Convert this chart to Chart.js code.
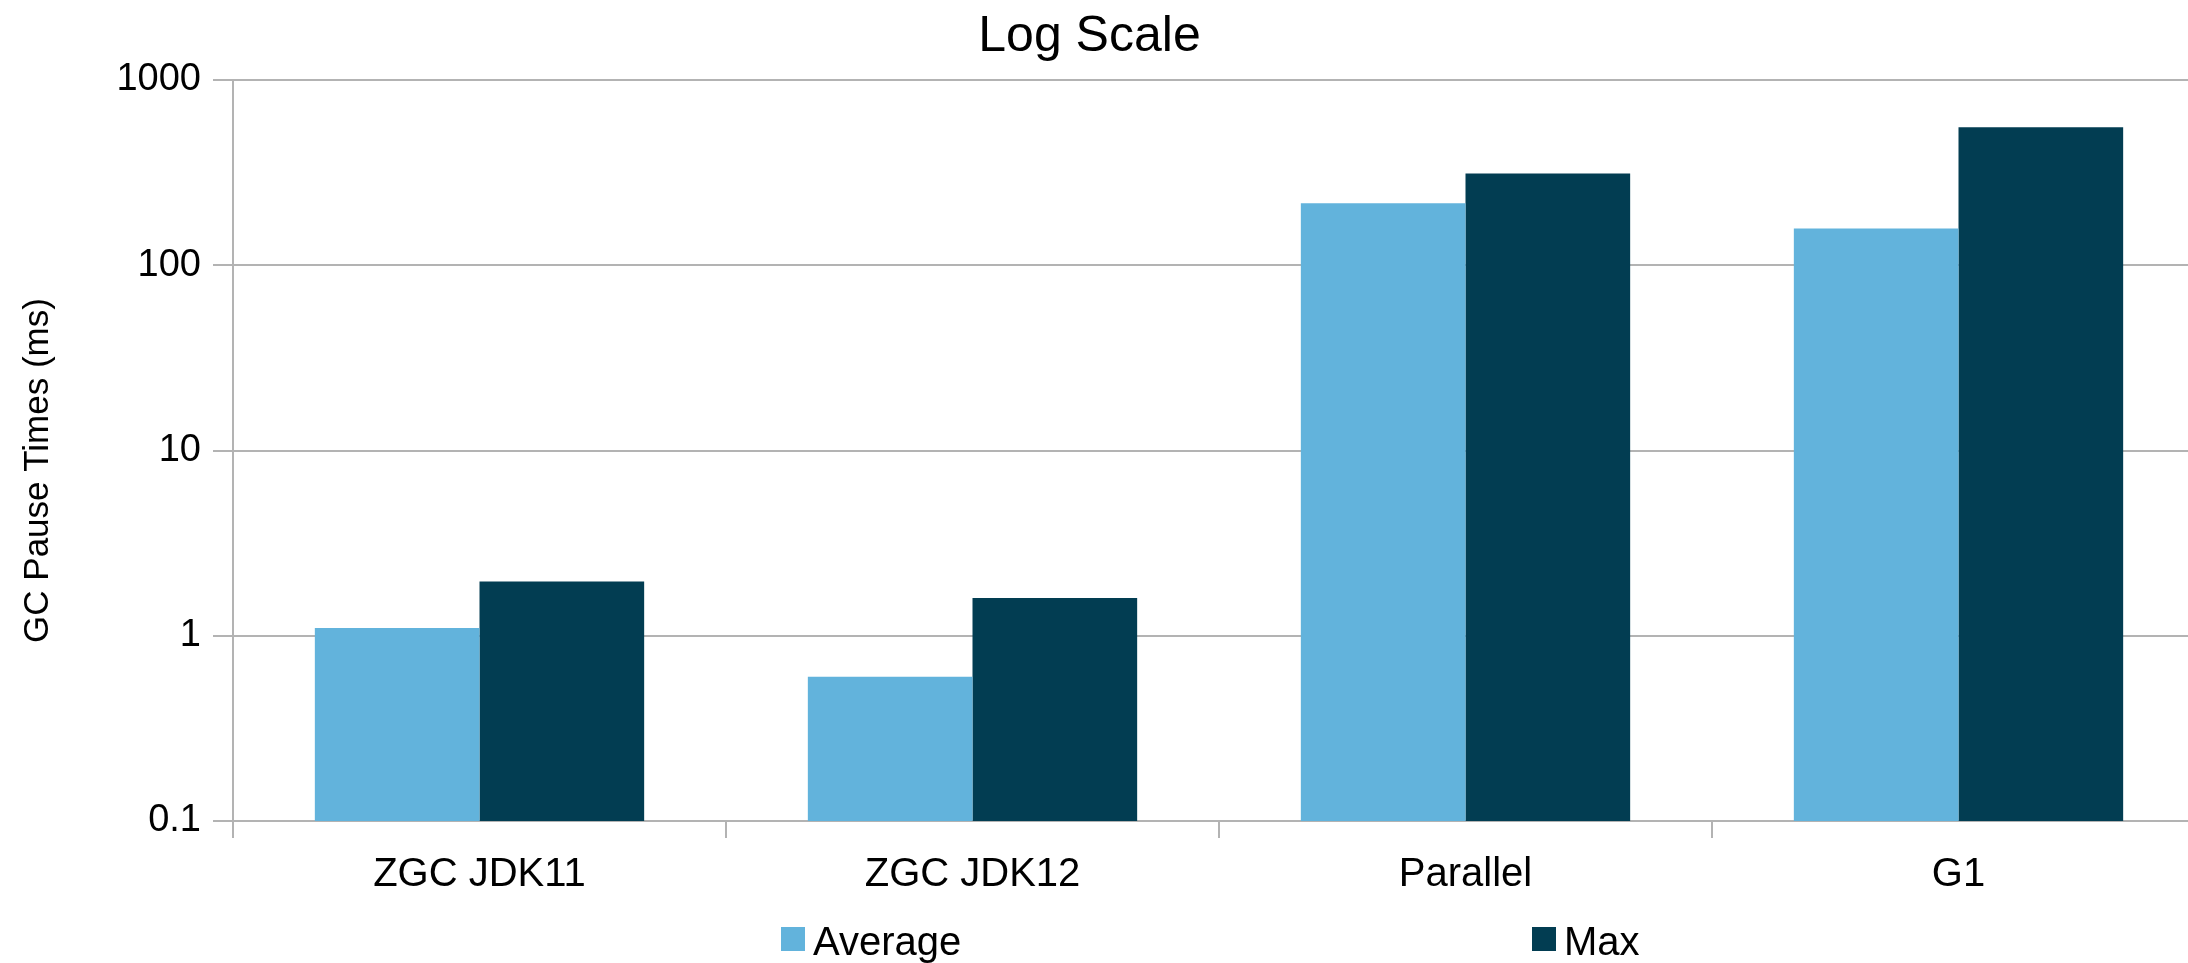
<!DOCTYPE html>
<html>
<head>
<meta charset="utf-8">
<script src="https://cdn.jsdelivr.net/npm/chart.js@4/dist/chart.umd.min.js"></script>
<style>
  html, body { margin: 0; padding: 0; background: #ffffff; width: 2188px; height: 963px; overflow: hidden; }
  #wrap { position: relative; width: 2205px; height: 963px; }
  #chart { position: absolute; left: 0; top: 0; }
  .leg { position: absolute; top: 921px; height: 40px; font-family: "Liberation Sans", Arial, sans-serif; font-size: 40px; line-height: 40px; color: #000; white-space: nowrap; }
  .sw { position: absolute; width: 24px; height: 24px; top: 6px; left: 0; }
  .lt { position: absolute; left: 32px; top: 0; }
</style>
</head>
<body>
<div id="wrap">
  <canvas id="chart"></canvas>
  <div id="legend"></div>
</div>
<script>
// ---- data ----
const categories = ['ZGC JDK11', 'ZGC JDK12', 'Parallel', 'G1'];
const averageValues = [1.1, 0.6, 216, 158];
const maxValues = [1.96, 1.6, 313, 555];
const seriesNames = ['Average', 'Max'];
const yTickValues = [0.1, 1, 10, 100, 1000];
const yTickLabels = ['0.1', '1', '10', '100', '1000'];
const chartTitle = 'Log Scale';
const yAxisTitle = 'GC Pause Times (ms)';

// ---- styles ----
const FONT = '"Liberation Sans", Arial, sans-serif';
const seriesColors = ['#62b3dc', '#023d52'];
const gridColor = '#b3b3b3';
const legendLefts = [781, 1532];

const yTitlePlugin = {
  id: 'yTitle',
  afterDraw(chart) {
    const ctx = chart.ctx;
    const area = chart.chartArea;
    ctx.save();
    ctx.translate(38, (area.top + area.bottom) / 2 + 20);
    ctx.rotate(-Math.PI / 2);
    ctx.font = '35px ' + FONT;
    ctx.fillStyle = '#000';
    ctx.textAlign = 'center';
    ctx.textBaseline = 'middle';
    ctx.fillText(yAxisTitle, 0, 0);
    ctx.restore();
  }
};

const datasets = [averageValues, maxValues].map((vals, i) => ({
  label: seriesNames[i],
  data: vals,
  backgroundColor: seriesColors[i],
  borderWidth: 0,
  barPercentage: 1.0,
  categoryPercentage: 0.668
}));

new Chart(document.getElementById('chart'), {
  type: 'bar',
  data: { labels: categories, datasets: datasets },
  plugins: [yTitlePlugin],
  options: {
    responsive: true,
    maintainAspectRatio: false,
    animation: false,
    devicePixelRatio: 1,
    layout: { padding: { left: -26, right: 0, top: 0, bottom: 62 } },
    plugins: {
      legend: { display: false },
      tooltip: { enabled: false },
      title: {
        display: true,
        text: chartTitle,
        color: '#000',
        font: { family: FONT, size: 50, weight: 'normal', lineHeight: 1.2 },
        padding: { top: 7, bottom: 13 }
      }
    },
    scales: {
      x: {
        offset: true,
        grid: { offset: true, drawOnChartArea: false, drawTicks: true, tickLength: 17, color: gridColor, lineWidth: 2 },
        border: { display: true, color: gridColor, width: 2 },
        ticks: { color: '#000', font: { family: FONT, size: 40 }, padding: 13, maxRotation: 0, autoSkip: false },
        afterFit(scale) { scale.height = 80; }
      },
      y: {
        type: 'logarithmic',
        min: yTickValues[0],
        max: yTickValues[yTickValues.length - 1],
        grid: { color: gridColor, lineWidth: 2, drawTicks: true, tickLength: 20 },
        border: { display: true, color: gridColor, width: 2 },
        ticks: {
          color: '#000',
          font: { family: FONT, size: 38 },
          padding: 12,
          callback(value) {
            const idx = yTickValues.indexOf(value);
            return idx >= 0 ? yTickLabels[idx] : '';
          }
        },
        afterBuildTicks(scale) { scale.ticks = yTickValues.map(v => ({ value: v })); },
        afterFit(scale) { scale.width = 259; }
      }
    }
  }
});

// HTML legend built from the series
const legend = document.getElementById('legend');
seriesNames.forEach((name, i) => {
  const item = document.createElement('div');
  item.className = 'leg';
  item.style.left = legendLefts[i] + 'px';
  const sw = document.createElement('div');
  sw.className = 'sw';
  sw.style.background = seriesColors[i];
  const t = document.createElement('span');
  t.className = 'lt';
  t.textContent = name;
  item.appendChild(sw);
  item.appendChild(t);
  legend.appendChild(item);
});
</script>
</body>
</html>
